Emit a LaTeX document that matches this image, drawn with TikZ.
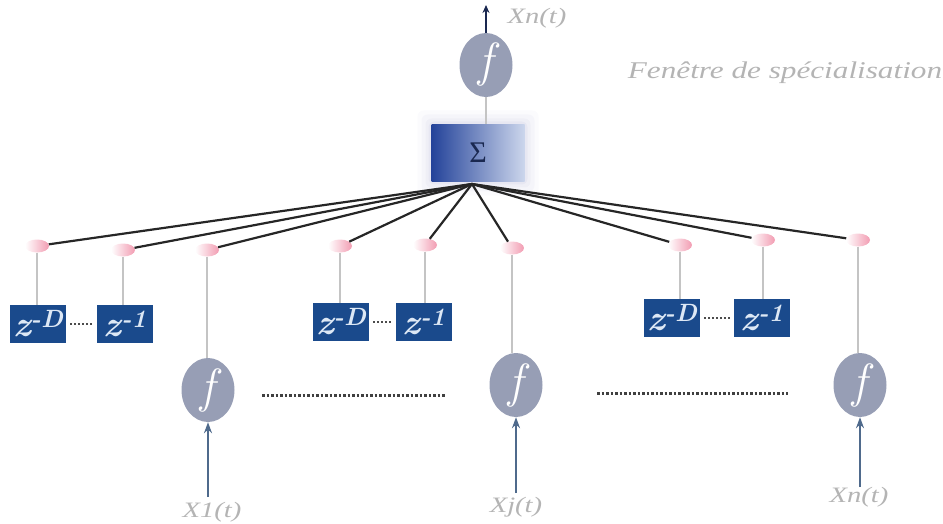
\documentclass[tikz,border=0pt]{standalone}
\usepackage{fontspec}
\setmainfont{Liberation Serif}
\newfontfamily\lmfont{Latin Modern Roman}
\usetikzlibrary{shapes.geometric,arrows.meta}
\definecolor{fgray}{HTML}{979EB5}
\definecolor{zblue}{HTML}{1A4A8C}
\definecolor{ztext}{HTML}{DDE8F5}
\definecolor{pinkdot}{HTML}{F29CB2}
\definecolor{vgray}{HTML}{C4C4C4}
\definecolor{arrowblue}{HTML}{4F6A8C}
\definecolor{lblgray}{HTML}{B4B4B4}
\definecolor{sigL}{HTML}{24439A}
\definecolor{sigR}{HTML}{CCD6EC}
\definecolor{sigtext}{HTML}{1A2850}
\newcommand{\zlabel}[1]{{\lmfont\bfseries\itshape\fontsize{36}{36}\selectfont z}\raisebox{9pt}{\lmfont\bfseries\itshape\fontsize{25}{25}\selectfont -#1}}
\newcommand{\flabel}{{\lmfont\itshape\fontsize{48}{48}\selectfont f}}
\newcommand{\wlabel}[1]{\scalebox{1.3}[1]{#1}}
\tikzset{
  fnode/.style={ellipse, fill=fgray, minimum width=53pt, minimum height=64pt, inner sep=0pt, text=white},
  zbox/.style={rectangle, fill=zblue, minimum width=56pt, minimum height=38pt, inner sep=0pt, text=ztext},
  dotnode/.style={ellipse, minimum width=24pt, minimum height=13pt, inner sep=0pt, left color=white, right color=pinkdot},
  conn/.style={line width=2.2pt, black!85},
  vline/.style={line width=1.6pt, vgray},
  inarrow/.style={line width=2pt, arrowblue, -{Stealth[length=11pt,width=8pt]}},
  lbl/.style={text=lblgray, font=\itshape\fontsize{22}{22}\selectfont},
  longdots/.style={line width=3pt, dash pattern=on 2.5pt off 2pt, black!75},
  shortdots/.style={line width=2pt, dash pattern=on 2pt off 2pt, black!70, shorten <=4pt, shorten >=4pt}
}
\begin{document}
\begin{tikzpicture}[x=1pt,y=-1pt]
\useasboundingbox (0,0) rectangle (943,524);
% sigma glow
\foreach \g/\o in {14/0.05,10/0.07,6/0.09,3/0.12}{
  \fill[blue!30!gray!50!white, opacity=\o, rounded corners=6pt] ({478-46.5-\g},{153-28.5-\g}) rectangle ({478+46.5+\g},{153+28.5+\g});
}
\node[rectangle, minimum width=93pt, minimum height=57pt, inner sep=0pt, left color=sigL, right color=sigR, text=sigtext, font=\fontsize{30}{30}\selectfont] (sig) at (478,153) {Σ};
\coordinate (sb) at (472,184);
% top output
\node[fnode] (ft) at (486,65) {\flabel};
\coordinate (top) at (486,5);
\draw[vline] (ft.south) -- (ft.south |- sig.north);
\draw[line width=2pt, sigtext, -{Stealth[length=8pt,width=7pt]}] (ft.north) -- (top);
\node[lbl] (lout) at (537,18) {\wlabel{Xn(t)}};
\node[text=lblgray, font=\itshape\fontsize{24}{24}\selectfont] (title) at (785,73) {\wlabel{Fenêtre de spécialisation}};
% dots
\node[dotnode] (d1) at (37,246) {};
\node[dotnode] (d2) at (123,250) {};
\node[dotnode] (d3) at (207,250) {};
\node[dotnode] (d4) at (340,246) {};
\node[dotnode] (d5) at (425,245) {};
\node[dotnode] (d6) at (512,248) {};
\node[dotnode] (d7) at (680,245) {};
\node[dotnode] (d8) at (763,240) {};
\node[dotnode] (d9) at (858,240) {};
\foreach \d in {d1,d2,d3,d4,d5,d6,d7,d8,d9}{\draw[conn] (sb) -- (\d);}
% delay boxes
\node[zbox] (z1) at (38,324) {\zlabel{D}};
\node[zbox] (z2) at (125,324) {\zlabel{1}};
\node[zbox] (z3) at (341,322) {\zlabel{D}};
\node[zbox] (z4) at (424,322) {\zlabel{1}};
\node[zbox] (z5) at (672,318) {\zlabel{D}};
\node[zbox] (z6) at (762,318) {\zlabel{1}};
\draw[shortdots] (z1.east) -- (z2.west);
\draw[shortdots] (z3.east) -- (z4.west);
\draw[shortdots] (z5.east) -- (z6.west);
% f nodes
\node[fnode] (fa) at (208,390) {\flabel};
\node[fnode] (fb) at (516,385) {\flabel};
\node[fnode] (fc) at (860,385) {\flabel};
% vertical links
\draw[vline] (d1) -- (d1 |- z1.north);
\draw[vline] (d2) -- (d2 |- z2.north);
\draw[vline] (d4) -- (d4 |- z3.north);
\draw[vline] (d5) -- (d5 |- z4.north);
\draw[vline] (d7) -- (d7 |- z5.north);
\draw[vline] (d8) -- (d8 |- z6.north);
\draw[vline] (d3) -- (d3 |- fa.north);
\draw[vline] (d6) -- (d6 |- fb.north);
\draw[vline] (d9) -- (d9 |- fc.north);
% long dotted lines
\coordinate (la1) at (262,395); \coordinate (la2) at (445,395);
\coordinate (lb1) at (597,393); \coordinate (lb2) at (788,393);
\draw[longdots] (la1) -- (la2);
\draw[longdots] (lb1) -- (lb2);
% inputs
\coordinate (ia) at (208,497);
\coordinate (ib) at (516,493);
\coordinate (ic) at (860,487);
\draw[inarrow] (ia) -- (fa.south);
\draw[inarrow] (ib) -- (fb.south);
\draw[inarrow] (ic) -- (fc.south);
\node[lbl] (l1) at (212,512) {\wlabel{X1(t)}};
\node[lbl] (l2) at (516,507) {\wlabel{Xj(t)}};
\node[lbl] (l3) at (859,497) {\wlabel{Xn(t)}};
\end{tikzpicture}
\end{document}
